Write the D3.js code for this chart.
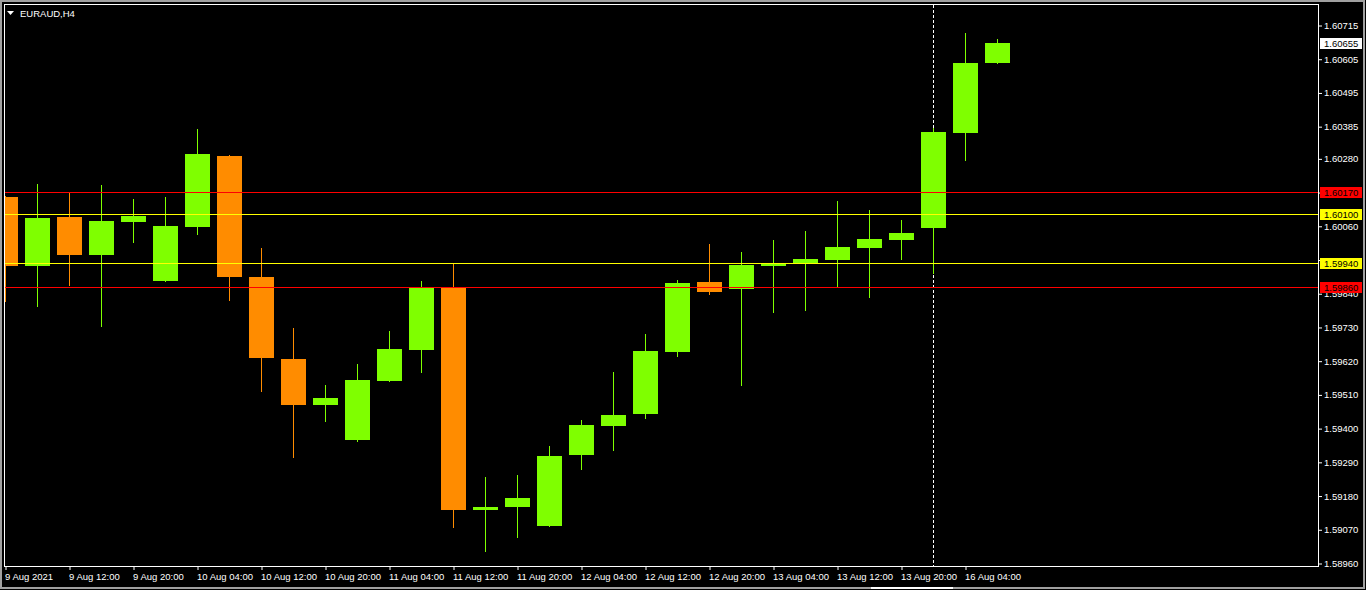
<!DOCTYPE html>
<html>
<head>
<meta charset="utf-8">
<script src="https://cdn.jsdelivr.net/npm/d3@7"></script>
<style>
  html, body { margin: 0; padding: 0; background: #000; overflow: hidden; }
  text { font-family: "Liberation Sans", Arial, sans-serif; font-size: 9.5px; }
</style>
</head>
<body>
<div id="chart"></div>
<script>
// Chart data (EURAUD, H4)
const times = [
  "9 Aug 04:00", "9 Aug 08:00", "9 Aug 12:00", "9 Aug 16:00", "9 Aug 20:00",
  "10 Aug 00:00", "10 Aug 04:00", "10 Aug 08:00", "10 Aug 12:00", "10 Aug 16:00", "10 Aug 20:00",
  "11 Aug 00:00", "11 Aug 04:00", "11 Aug 08:00", "11 Aug 12:00", "11 Aug 16:00", "11 Aug 20:00",
  "12 Aug 00:00", "12 Aug 04:00", "12 Aug 08:00", "12 Aug 12:00", "12 Aug 16:00", "12 Aug 20:00",
  "13 Aug 00:00", "13 Aug 04:00", "13 Aug 08:00", "13 Aug 12:00", "13 Aug 16:00", "13 Aug 20:00",
  "16 Aug 00:00", "16 Aug 04:00", "16 Aug 08:00"
];
const opens = [
  1.60154, 1.59929, 1.60089, 1.59965, 1.60072, 1.59880, 1.60056, 1.60288,
  1.59893, 1.59625, 1.59476, 1.59361, 1.59555, 1.59656, 1.59858, 1.59134,
  1.59144, 1.59082, 1.59313, 1.59408, 1.59447, 1.59649, 1.59877, 1.59855,
  1.59930, 1.59939, 1.59949, 1.59989, 1.60015, 1.60054, 1.60364, 1.60592
];
const highs = [
  1.60158, 1.60196, 1.60168, 1.60193, 1.60147, 1.60154, 1.60376, 1.60291,
  1.59988, 1.59727, 1.59541, 1.59609, 1.59717, 1.59880, 1.59938, 1.59241,
  1.59247, 1.59342, 1.59427, 1.59583, 1.59707, 1.59883, 1.60001, 1.59975,
  1.60014, 1.60043, 1.60141, 1.60112, 1.60079, 1.60379, 1.60689, 1.60669
];
const lows = [
  1.59815, 1.59799, 1.59868, 1.59733, 1.60007, 1.59880, 1.60033, 1.59818,
  1.59522, 1.59307, 1.59423, 1.59359, 1.59555, 1.59583, 1.59078, 1.59000,
  1.59046, 1.59082, 1.59268, 1.59330, 1.59434, 1.59636, 1.59839, 1.59542,
  1.59780, 1.59786, 1.59860, 1.59829, 1.59953, 1.59907, 1.60276, 1.60592
];
const closes = [
  1.59929, 1.60085, 1.59965, 1.60076, 1.60092, 1.60059, 1.60294, 1.59893,
  1.59630, 1.59476, 1.59498, 1.59557, 1.59658, 1.59858, 1.59134, 1.59143,
  1.59172, 1.59309, 1.59410, 1.59443, 1.59652, 1.59873, 1.59845, 1.59932,
  1.59939, 1.59952, 1.59991, 1.60017, 1.60037, 1.60366, 1.60591, 1.60655
];

// Axis ticks
const priceTicks = [
  1.60715, 1.60605, 1.60495, 1.60385, 1.60280, 1.60170, 1.60060, 1.59950,
  1.59840, 1.59730, 1.59620, 1.59510, 1.59400, 1.59290, 1.59180, 1.59070, 1.58960
];
const timeTicks = [
  "9 Aug 04:00", "9 Aug 12:00", "9 Aug 20:00", "10 Aug 04:00", "10 Aug 12:00",
  "10 Aug 20:00", "11 Aug 04:00", "11 Aug 12:00", "11 Aug 20:00", "12 Aug 04:00",
  "12 Aug 12:00", "12 Aug 20:00", "13 Aug 04:00", "13 Aug 12:00", "13 Aug 20:00", "16 Aug 04:00"
];
const timeTickLabels = [
  "9 Aug 2021", "9 Aug 12:00", "9 Aug 20:00", "10 Aug 04:00", "10 Aug 12:00",
  "10 Aug 20:00", "11 Aug 04:00", "11 Aug 12:00", "11 Aug 20:00", "12 Aug 04:00",
  "12 Aug 12:00", "12 Aug 20:00", "13 Aug 04:00", "13 Aug 12:00", "13 Aug 20:00", "16 Aug 04:00"
];

// Horizontal levels and the vertical separator
const levels = [1.60170, 1.60100, 1.59940, 1.59860];
const levelColors = ["#ff0000", "#ffff00", "#ffff00", "#ff0000"];
const separatorTime = "16 Aug 00:00";

// Plot constants
const W = 1366, H = 590;
const FRAME = { LEFT: 4, TOP: 4, RIGHT: 1318, BOTTOM: 566 };
const BULL = "#7fff00", BEAR = "#ff8c00";

const data = times.map((t, i) => ({
  time: t, open: opens[i], high: highs[i], low: lows[i], close: closes[i]
}));

const svg = d3.select("#chart").append("svg")
  .attr("width", W)
  .attr("height", H)
  .style("display", "block")
  .style("background", "#000");

// Scales
const x = d3.scalePoint().domain(times).range([5, 997]);
const y = d3.scaleLinear().domain([1.58960, 1.60715]).range([563, 25]);
const py = (v) => Math.round(y(v));

// Window border
svg.append("rect")
  .attr("x", 1).attr("y", 1)
  .attr("width", W - 3).attr("height", H - 3)
  .attr("fill", "none")
  .attr("stroke", "#a0a0a0")
  .attr("stroke-width", 2);
svg.append("rect")
  .attr("x", 871).attr("y", 587)
  .attr("width", 82).attr("height", 2)
  .attr("fill", "#ffffff");

svg.append("clipPath").attr("id", "plot-clip")
  .append("rect")
  .attr("x", FRAME.LEFT + 1).attr("y", FRAME.TOP + 1)
  .attr("width", FRAME.RIGHT - FRAME.LEFT - 1)
  .attr("height", FRAME.BOTTOM - FRAME.TOP - 1);

const plot = svg.append("g").attr("clip-path", "url(#plot-clip)");

// Vertical dashed separator (behind candles)
plot.append("line")
  .attr("x1", x(separatorTime) + 0.5).attr("x2", x(separatorTime) + 0.5)
  .attr("y1", FRAME.TOP + 1).attr("y2", FRAME.BOTTOM)
  .attr("stroke", "#ffffff")
  .attr("stroke-dasharray", "3,2");

// Candles
const candles = plot.selectAll(".candle").data(data).enter().append("g")
  .attr("class", "candle");

candles.append("rect")
  .attr("x", (d) => x(d.time))
  .attr("y", (d) => py(d.high))
  .attr("width", 1)
  .attr("height", (d) => Math.max(1, py(d.low) - py(d.high) + 1))
  .attr("fill", (d) => d.close >= d.open ? BULL : BEAR);

candles.append("rect")
  .attr("x", (d) => x(d.time) - 12)
  .attr("y", (d) => py(Math.max(d.open, d.close)))
  .attr("width", 25)
  .attr("height", (d) => Math.max(1, py(Math.min(d.open, d.close)) - py(Math.max(d.open, d.close))))
  .attr("fill", (d) => d.close >= d.open ? BULL : BEAR);

// Horizontal level lines (drawn over candles)
plot.selectAll(".level").data(levels).enter().append("line")
  .attr("class", "level")
  .attr("x1", FRAME.LEFT + 1).attr("x2", FRAME.RIGHT)
  .attr("y1", (d) => py(d) + 0.5).attr("y2", (d) => py(d) + 0.5)
  .attr("stroke", (d, i) => levelColors[i])
  .attr("stroke-width", 1);

// Frame
svg.append("rect")
  .attr("x", FRAME.LEFT + 0.5).attr("y", FRAME.TOP + 0.5)
  .attr("width", FRAME.RIGHT - FRAME.LEFT)
  .attr("height", FRAME.BOTTOM - FRAME.TOP)
  .attr("fill", "none")
  .attr("stroke", "#ffffff");

// Price axis
const yAxisGroup = svg.append("g")
  .attr("transform", "translate(" + (FRAME.RIGHT + 1) + ",0.5)")
  .call(d3.axisRight(y)
    .tickValues(priceTicks)
    .tickFormat(d3.format(".5f"))
    .tickSize(3)
    .tickPadding(2));
yAxisGroup.select(".domain").remove();
yAxisGroup.selectAll(".tick line").attr("stroke", "#ffffff");
yAxisGroup.selectAll(".tick text")
  .attr("fill", "#ffffff")
  .style("font-family", "'Liberation Sans', Arial, sans-serif")
  .style("font-size", "9.5px");

// Time axis
const labelOf = new Map(timeTicks.map((t, i) => [t, timeTickLabels[i]]));
const xAxisGroup = svg.append("g")
  .attr("transform", "translate(0.5," + FRAME.BOTTOM + ")")
  .call(d3.axisBottom(x)
    .tickValues(timeTicks)
    .tickFormat((d) => labelOf.get(d))
    .tickSize(4)
    .tickPadding(3));
xAxisGroup.select(".domain").remove();
xAxisGroup.selectAll(".tick line").attr("stroke", "#ffffff");
xAxisGroup.selectAll(".tick text")
  .attr("fill", "#ffffff")
  .attr("text-anchor", "start")
  .attr("x", -1)
  .style("font-family", "'Liberation Sans', Arial, sans-serif")
  .style("font-size", "9.5px");

// Price labels on the axis
const tags = levels.map((v, i) => ({ value: v, fill: levelColors[i] }))
  .concat([{ value: closes[closes.length - 1], fill: "#ffffff" }]);
const tagGroup = svg.selectAll(".tag").data(tags).enter().append("g")
  .attr("class", "tag");
tagGroup.append("rect")
  .attr("x", FRAME.RIGHT + 2)
  .attr("y", (d) => py(d.value) - 5)
  .attr("width", 42)
  .attr("height", 11)
  .attr("fill", (d) => d.fill);
tagGroup.append("text")
  .attr("x", FRAME.RIGHT + 6)
  .attr("y", (d) => py(d.value) + 4)
  .attr("fill", "#000000")
  .text((d) => d3.format(".5f")(d.value));

// Symbol title
svg.append("path")
  .attr("d", "M7,11 L14,11 L10.5,15 Z")
  .attr("fill", "#ffffff");
svg.append("text")
  .attr("x", 20)
  .attr("y", 17)
  .attr("fill", "#ffffff")
  .text("EURAUD,H4");
</script>
</body>
</html>
